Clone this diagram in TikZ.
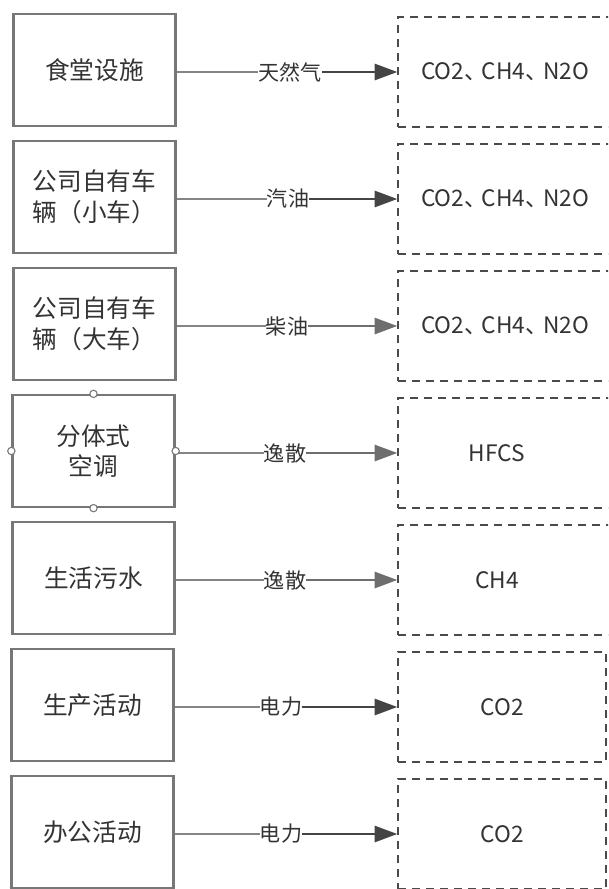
\documentclass[tikz,border=0pt]{standalone}
\usepackage{fontspec}
\setmainfont{Noto Sans CJK SC}
\usetikzlibrary{arrows.meta}
\definecolor{boxgray}{HTML}{777777}
\definecolor{txt}{HTML}{333333}
\definecolor{linegray}{HTML}{858585}
\definecolor{arrdark}{HTML}{444444}
\definecolor{arrlight}{HTML}{6E6E6E}
\definecolor{dashc}{HTML}{4A4A4A}
\newcommand{\dun}{、\kern-0.22em}
\tikzset{
  lbox/.style={draw=boxgray, line width=1.7pt, minimum width=121.5pt, minimum height=84pt,
    align=center, text=txt, font=\fontsize{18.5pt}{23pt}\selectfont, inner sep=0pt},
  rbox/.style={draw=dashc, line width=1pt, dash pattern=on 6pt off 4.5pt, minimum height=82.5pt,
    text=txt, font=\fontsize{17pt}{20pt}\selectfont, inner sep=0pt},
  elabel/.style={text=txt, font=\fontsize{15.8pt}{18pt}\selectfont, inner sep=0pt},
  pre/.style={draw=linegray, line width=1.8pt},
  post/.style={draw=#1, line width=2.1pt, -{Triangle[length=17pt, width=12pt, fill=#1]}},
  handle/.style={circle, draw=boxgray, fill=white, line width=0.8pt, minimum size=5.5pt, inner sep=0pt}
}
\begin{document}
\begin{tikzpicture}[x=0.75pt, y=-0.75pt]
\useasboundingbox (0,0) rectangle (608,889);
\fill[white] (0,0) rectangle (608,889);
\begin{scope}
\clip (0,0) rectangle (608,889);
% left boxes
\node[lbox] (L1) at (94.5,70) {食堂设施};
\node[lbox] (L2) at (94.5,197) {公司自有车\\辆（小车）};
\node[lbox] (L3) at (94.5,324) {公司自有车\\辆（大车）};
\node[lbox] (L4) at (93.5,451) {分体式\\空调};
\node[lbox] (L5) at (93.5,578) {生活污水};
\node[lbox] (L6) at (92.5,705) {生产活动};
\node[lbox] (L7) at (92.5,832) {办公活动};
% right boxes
\node[rbox, minimum width=160.5pt] (R1) at (505,72) {CO2\dun CH4\dun N2O};
\node[rbox, minimum width=160.5pt] (R2) at (505,199) {CO2\dun CH4\dun N2O};
\node[rbox, minimum width=160.5pt] (R3) at (505,326) {CO2\dun CH4\dun N2O};
\node[rbox, minimum width=160.5pt] (R4) at (505,453) {\hspace*{-12pt}HFCS};
\node[rbox, minimum width=160.5pt] (R5) at (505,580) {\hspace*{-12pt}CH4};
\node[rbox, minimum width=156pt] (R6) at (502,707) {CO2};
\node[rbox, minimum width=156pt] (R7) at (502,834) {CO2};
% edge labels
\node[elabel] (E1) at (290,72) {天然气};
\node[elabel] (E2) at (288,199) {汽油};
\node[elabel] (E3) at (287,326) {柴油};
\node[elabel] (E4) at (285,453) {逸散};
\node[elabel] (E5) at (285,580) {逸散};
\node[elabel] (E6) at (281,707) {电力};
\node[elabel] (E7) at (281,834) {电力};
% connectors
\draw[pre] (L1.east |- E1) -- (E1.west);
\draw[post=arrdark] (E1.east) -- (E1.east -| R1.west);
\draw[pre] (L2.east |- E2) -- (E2.west);
\draw[post=arrdark] (E2.east) -- (E2.east -| R2.west);
\draw[pre] (L3.east |- E3) -- (E3.west);
\draw[post=arrlight] (E3.east) -- (E3.east -| R3.west);
\draw[pre] (L4.east |- E4) -- (E4.west);
\draw[post=arrlight] (E4.east) -- (E4.east -| R4.west);
\draw[pre] (L5.east |- E5) -- (E5.west);
\draw[post=arrlight] (E5.east) -- (E5.east -| R5.west);
\draw[pre] (L6.east |- E6) -- (E6.west);
\draw[post=arrdark] (E6.east) -- (E6.east -| R6.west);
\draw[pre] (L7.east |- E7) -- (E7.west);
\draw[post=arrdark] (E7.east) -- (E7.east -| R7.west);
% selection handles
\node[handle] (H1) at (L4.north) {};
\node[handle] (H2) at (L4.south) {};
\node[handle] (H3) at (L4.west) {};
\node[handle] (H4) at (L4.east) {};
\end{scope}
\end{tikzpicture}
\end{document}
